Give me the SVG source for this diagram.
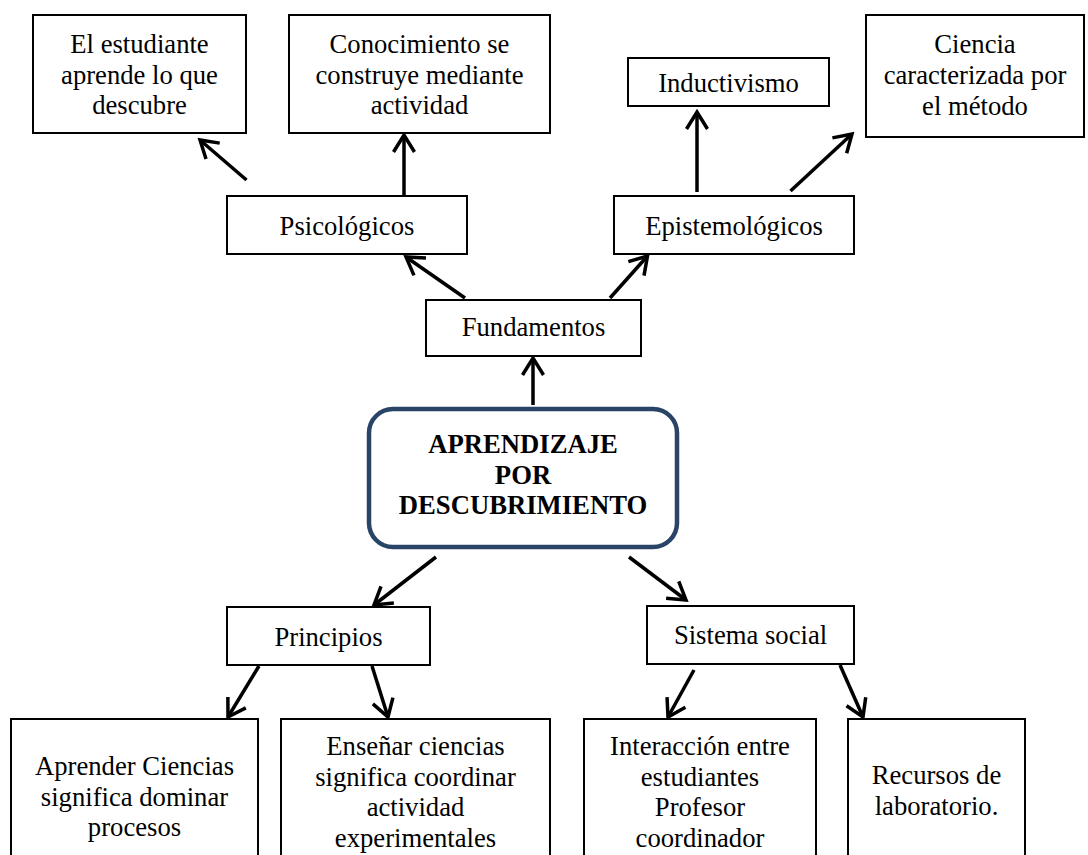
<svg xmlns="http://www.w3.org/2000/svg" width="1088" height="855" viewBox="0 0 1088 855">
  <style>
    .box { fill: #ffffff; stroke: #000000; stroke-width: 2; }
    .main { fill: #ffffff; stroke: #2a4467; stroke-width: 4.5; }
    .t { font-family: "Liberation Serif", "Times New Roman", serif; font-size: 26.67px; fill: #000000; text-anchor: middle; }
    .b { font-weight: bold; }
    .conn line { stroke: #000000; stroke-width: 3.5; marker-end: url(#arr); }
  </style>
  <defs>
    <marker id="arr" markerUnits="userSpaceOnUse" markerWidth="30" markerHeight="30" viewBox="0 0 30 30" refX="22" refY="15" orient="auto">
      <path d="M5,4.5 L22,15 L5,25.5" fill="none" stroke="#000000" stroke-width="3.5" stroke-linejoin="miter"/>
    </marker>
  </defs>
  <rect width="1088" height="855" fill="#ffffff"/>

  <g id="conectores" class="conn">
    <line x1="246.5" y1="180" x2="200" y2="140"/>
    <line x1="404" y1="196" x2="404" y2="135"/>
    <line x1="465" y1="298" x2="406" y2="257"/>
    <line x1="610" y1="298" x2="647.5" y2="256"/>
    <line x1="697" y1="192" x2="697" y2="112"/>
    <line x1="790.5" y1="191" x2="852" y2="134"/>
    <line x1="533" y1="405" x2="533" y2="358"/>
    <line x1="436" y1="557" x2="374" y2="605"/>
    <line x1="629" y1="557" x2="686" y2="600"/>
    <line x1="259" y1="666" x2="228" y2="717"/>
    <line x1="372" y1="666" x2="388" y2="717"/>
    <line x1="694" y1="670" x2="668" y2="717"/>
    <line x1="840" y1="665" x2="863" y2="717"/>
  </g>

  <g id="n-estudiante">
    <rect class="box" x="33" y="15" width="213" height="118"/>
    <text class="t" x="139.5" y="53">El estudiante</text>
    <text class="t" x="139.5" y="83.5">aprende lo que</text>
    <text class="t" x="139.5" y="114">descubre</text>
  </g>
  <g id="n-conocimiento">
    <rect class="box" x="289" y="15" width="261" height="118"/>
    <text class="t" x="419.5" y="53">Conocimiento se</text>
    <text class="t" x="419.5" y="83.5">construye mediante</text>
    <text class="t" x="419.5" y="114">actividad</text>
  </g>
  <g id="n-inductivismo">
    <rect class="box" x="628" y="58" width="201" height="48"/>
    <text class="t" x="728.5" y="92">Inductivismo</text>
  </g>
  <g id="n-ciencia">
    <rect class="box" x="866" y="15" width="218" height="122"/>
    <text class="t" x="975" y="53">Ciencia</text>
    <text class="t" x="975" y="84">caracterizada por</text>
    <text class="t" x="975" y="115">el método</text>
  </g>
  <g id="n-psicologicos">
    <rect class="box" x="227" y="196" width="240" height="58"/>
    <text class="t" x="347" y="235">Psicológicos</text>
  </g>
  <g id="n-epistemologicos">
    <rect class="box" x="614" y="196" width="240" height="58"/>
    <text class="t" x="734" y="235">Epistemológicos</text>
  </g>
  <g id="n-fundamentos">
    <rect class="box" x="426" y="300" width="215" height="56"/>
    <text class="t" x="533.5" y="336">Fundamentos</text>
  </g>
  <g id="n-central">
    <rect class="main" x="369" y="409" width="308" height="138" rx="24" ry="24"/>
    <text class="t b" x="523" y="453">APRENDIZAJE</text>
    <text class="t b" x="523" y="484">POR</text>
    <text class="t b" x="523" y="514">DESCUBRIMIENTO</text>
  </g>
  <g id="n-principios">
    <rect class="box" x="227" y="607" width="203" height="58"/>
    <text class="t" x="328.5" y="646">Principios</text>
  </g>
  <g id="n-sistema">
    <rect class="box" x="647" y="606" width="207" height="58"/>
    <text class="t" x="750.5" y="644">Sistema social</text>
  </g>
  <g id="n-aprender">
    <rect class="box" x="11" y="719" width="247" height="150"/>
    <text class="t" x="134.5" y="775">Aprender Ciencias</text>
    <text class="t" x="134.5" y="805.7">significa dominar</text>
    <text class="t" x="134.5" y="836.3">procesos</text>
  </g>
  <g id="n-ensenar">
    <rect class="box" x="281" y="719" width="269" height="150"/>
    <text class="t" x="415.5" y="755">Enseñar ciencias</text>
    <text class="t" x="415.5" y="785.7">significa coordinar</text>
    <text class="t" x="415.5" y="816.3">actividad</text>
    <text class="t" x="415.5" y="847">experimentales</text>
  </g>
  <g id="n-interaccion">
    <rect class="box" x="584" y="719" width="232" height="150"/>
    <text class="t" x="700" y="755">Interacción entre</text>
    <text class="t" x="700" y="785.7">estudiantes</text>
    <text class="t" x="700" y="816.3">Profesor</text>
    <text class="t" x="700" y="847">coordinador</text>
  </g>
  <g id="n-recursos">
    <rect class="box" x="848" y="719" width="177" height="150"/>
    <text class="t" x="936.5" y="784">Recursos de</text>
    <text class="t" x="936.5" y="814.7">laboratorio.</text>
  </g>
</svg>
